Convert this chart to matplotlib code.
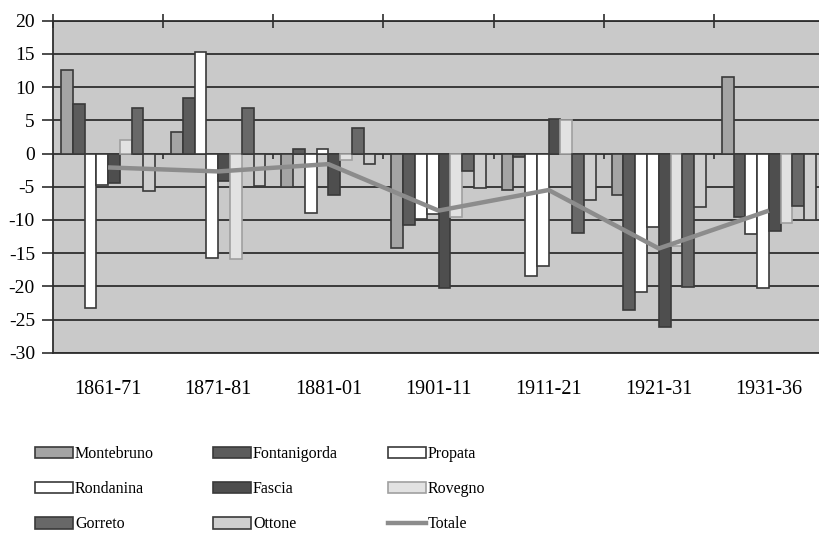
import numpy as np
import matplotlib.pyplot as plt
from matplotlib.patches import Rectangle
from matplotlib.lines import Line2D

plt.rcParams['font.family'] = ['Liberation Serif', 'DejaVu Serif']
plt.rcParams['axes.unicode_minus'] = False

periodi = ['1861-71', '1871-81', '1881-01', '1901-11', '1911-21', '1921-31', '1931-36']

montebruno = [12.5, 3.2, -5.0, -14.2, -5.5, -6.3, 11.5]
fontanigorda = [7.4, 8.4, 0.7, -10.7, -0.5, -23.6, -9.5]
propata = [-23.2, 15.3, -8.9, -9.9, -18.5, -20.9, -12.1]
rondanina = [-4.7, -15.8, 0.7, -9.1, -17.0, -11.0, -20.2]
fascia = [-4.5, -4.1, -6.3, -20.2, 5.2, -26.1, -11.7]
rovegno = [2.1, -15.9, -1.0, -9.6, 5.0, -14.0, -10.5]
gorreto = [6.9, 6.8, 3.9, -2.6, -12.0, -20.1, -7.9]
ottone = [-5.7, -4.9, -1.6, -5.2, -7.0, -8.1, -10.0]
totale = [-2.1, -2.7, -1.6, -8.6, -5.5, -14.3, -8.6]

serie = [
    ("Montebruno", montebruno, "#a4a4a4", "#3a3a3a"),
    ("Fontanigorda", fontanigorda, "#5c5c5c", "#3a3a3a"),
    ("Propata", propata, "#ffffff", "#3a3a3a"),
    ("Rondanina", rondanina, "#ffffff", "#3a3a3a"),
    ("Fascia", fascia, "#4e4e4e", "#3a3a3a"),
    ("Rovegno", rovegno, "#e2e2e2", "#a0a0a0"),
    ("Gorreto", gorreto, "#686868", "#3a3a3a"),
    ("Ottone", ottone, "#cfcfcf", "#3a3a3a"),
]

fig = plt.figure(figsize=(8.19, 5.33), dpi=100)
ax = fig.add_axes([53 / 819, 1 - 352.7 / 533, 771 / 819, 332 / 533])
ax.set_facecolor("#c9c9c9")

x = np.arange(len(periodi))
w = 0.107
handles = {}
for i, (nome, valori, fc, ec) in enumerate(serie):
    ax.bar(x + (i - 3.5) * w, valori, width=w, color=fc, edgecolor=ec,
           linewidth=1.2, zorder=3)
    handles[nome] = Rectangle((0, 0), 1, 1, facecolor=fc, edgecolor=ec, linewidth=1.2)

ax.plot(x, totale, color="#8c8c8c", lw=3.2, zorder=5, solid_capstyle='butt')
handles["Totale"] = Line2D([], [], color="#8c8c8c", lw=3.2)

ax.set_xlim(-0.5, len(periodi) - 0.5)
ax.set_ylim(-30, 20)
ax.set_yticks(np.arange(-30, 21, 5))
ax.yaxis.grid(True, color="#2e2e2e", lw=1.3, zorder=1)
ax.set_axisbelow(True)

ax.set_xticks(x)
ax.set_xticklabels(periodi, fontsize=14.5)
ax.tick_params(axis='x', which='major', length=0, pad=20)
confini = np.arange(len(periodi) + 1) - 0.5
ax.set_xticks(confini, minor=True)
ax.tick_params(axis='x', which='minor', bottom=False, top=True,
               direction='inout', length=10, width=1.2, color="#2e2e2e")
ax.vlines(confini, -0.9, 0, color="#2e2e2e", lw=1.2, zorder=2)
ax.tick_params(axis='y', direction='out', length=8, width=1.2,
               color="#2e2e2e", labelsize=14, pad=5)

for s in ax.spines.values():
    s.set_color("#2e2e2e")
    s.set_linewidth(1.3)

colonne = [["Montebruno", "Rondanina", "Gorreto"],
           ["Fontanigorda", "Fascia", "Ottone"],
           ["Propata", "Rovegno", "Totale"]]
xs = [35, 213, 388]
for xc, col in zip(xs, colonne):
    fig.legend([handles[n] for n in col], col, loc='upper left',
               bbox_to_anchor=(xc / 819, 1 - 446 / 533), frameon=False,
               fontsize=11.5, handlelength=2.35, handleheight=0.75,
               handletextpad=0.15, labelspacing=1.2, borderpad=0,
               borderaxespad=0)

fig.savefig("out.png", dpi=100)
